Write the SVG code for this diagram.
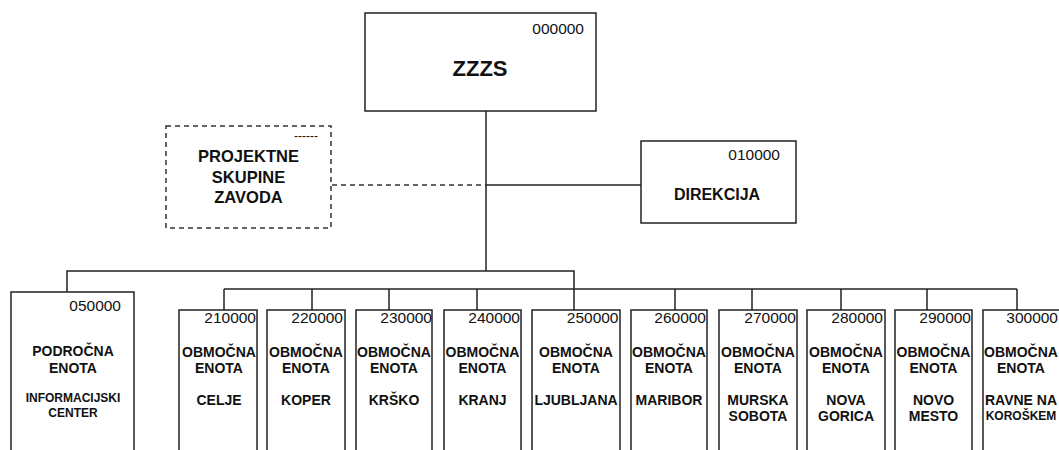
<svg xmlns="http://www.w3.org/2000/svg" width="1059" height="450" viewBox="0 0 1059 450">
<style>
.box{fill:#fff;stroke:#222;stroke-width:1.5}
.dbox{fill:#fff;stroke:#333;stroke-width:1.5;stroke-dasharray:5 4}
.ln{fill:none;stroke:#222;stroke-width:1.5}
.dln{fill:none;stroke:#333;stroke-width:1.3;stroke-dasharray:5 4}
text{font-family:"Liberation Sans",Arial,sans-serif;fill:#111}
.code{font-size:15.5px;text-anchor:end}
.t{font-size:14px;font-weight:bold;text-anchor:middle}
.s{font-size:12px;font-weight:bold;text-anchor:middle}
.big{font-size:22px;font-weight:bold;text-anchor:middle}
.m{font-size:16px;font-weight:bold;text-anchor:middle}
</style>
<rect width="1059" height="450" fill="#fff"/>
<g id="connectors">
<line class="ln" x1="486" y1="111" x2="486" y2="271"/>
<line class="dln" x1="332" y1="185" x2="486" y2="185"/>
<line class="ln" x1="486" y1="185" x2="641" y2="185"/>
<polyline class="ln" points="67,292 67,271 574,271 574,310"/>
<line class="ln" x1="224" y1="289" x2="1017" y2="289"/>
<line class="ln" x1="224" y1="289" x2="224" y2="310"/>
<line class="ln" x1="312" y1="289" x2="312" y2="310"/>
<line class="ln" x1="389" y1="289" x2="389" y2="310"/>
<line class="ln" x1="477" y1="289" x2="477" y2="310"/>
<line class="ln" x1="675" y1="289" x2="675" y2="310"/>
<line class="ln" x1="752" y1="289" x2="752" y2="310"/>
<line class="ln" x1="841" y1="289" x2="841" y2="310"/>
<line class="ln" x1="927" y1="289" x2="927" y2="310"/>
<line class="ln" x1="1017" y1="289" x2="1017" y2="310"/>
</g>
<g id="zzzs">
<rect class="box" x="365" y="13" width="231" height="98"/>
<text class="code" x="584" y="34">000000</text>
<text class="big" x="480" y="76">ZZZS</text>
</g>
<g id="projektne">
<rect class="dbox" x="166" y="126" width="165" height="102"/>
<text x="306" y="140" style="font-size:12px;text-anchor:middle">------</text>
<text x="248.5" y="161.5" style="font-size:16.5px;font-weight:bold;text-anchor:middle">PROJEKTNE</text>
<text x="248.5" y="182.5" style="font-size:16.5px;font-weight:bold;text-anchor:middle">SKUPINE</text>
<text x="248.5" y="203" style="font-size:16.5px;font-weight:bold;text-anchor:middle">ZAVODA</text>
</g>
<g id="direkcija">
<rect class="box" x="641" y="141" width="155" height="82"/>
<text class="code" x="780" y="160">010000</text>
<text class="m" x="717" y="200">DIREKCIJA</text>
</g>
<g id="n050000">
<rect class="box" x="11" y="292" width="123" height="170"/>
<text class="code" x="121" y="311">050000</text>
<text class="t" x="73" y="356">PODROČNA</text>
<text class="t" x="73" y="372.5">ENOTA</text>
<text class="s" x="73" y="401.5">INFORMACIJSKI</text>
<text class="s" x="73" y="416.5">CENTER</text>
</g>
<g id="n210000">
<rect class="box" x="179" y="310" width="78" height="150"/>
<text class="code" x="256" y="323">210000</text>
<text class="t" x="219" y="357">OBMOČNA</text>
<text class="t" x="219" y="373">ENOTA</text>
<text class="t" x="219" y="405">CELJE</text>
</g>
<g id="n220000">
<rect class="box" x="267" y="310" width="78" height="150"/>
<text class="code" x="343" y="323">220000</text>
<text class="t" x="306" y="357">OBMOČNA</text>
<text class="t" x="306" y="373">ENOTA</text>
<text class="t" x="306" y="405">KOPER</text>
</g>
<g id="n230000">
<rect class="box" x="356" y="310" width="76" height="150"/>
<text class="code" x="432" y="323">230000</text>
<text class="t" x="394" y="357">OBMOČNA</text>
<text class="t" x="394" y="373">ENOTA</text>
<text class="t" x="394" y="405">KRŠKO</text>
</g>
<g id="n240000">
<rect class="box" x="444" y="310" width="77" height="150"/>
<text class="code" x="520" y="323">240000</text>
<text class="t" x="482.5" y="357">OBMOČNA</text>
<text class="t" x="482.5" y="373">ENOTA</text>
<text class="t" x="482.5" y="405">KRANJ</text>
</g>
<g id="n250000">
<rect class="box" x="532" y="310" width="88" height="150"/>
<text class="code" x="618.5" y="323">250000</text>
<text class="t" x="576" y="357">OBMOČNA</text>
<text class="t" x="576" y="373">ENOTA</text>
<text class="t" x="576" y="405">LJUBLJANA</text>
</g>
<g id="n260000">
<rect class="box" x="631" y="310" width="76" height="150"/>
<text class="code" x="706" y="323">260000</text>
<text class="t" x="669" y="357">OBMOČNA</text>
<text class="t" x="669" y="373">ENOTA</text>
<text class="t" x="669" y="405">MARIBOR</text>
</g>
<g id="n270000">
<rect class="box" x="719" y="310" width="78" height="150"/>
<text class="code" x="796" y="323">270000</text>
<text class="t" x="758" y="357">OBMOČNA</text>
<text class="t" x="758" y="373">ENOTA</text>
<text class="t" x="758" y="405">MURSKA</text>
<text class="t" x="758" y="421">SOBOTA</text>
</g>
<g id="n280000">
<rect class="box" x="807" y="310" width="78" height="150"/>
<text class="code" x="883" y="323">280000</text>
<text class="t" x="846" y="357">OBMOČNA</text>
<text class="t" x="846" y="373">ENOTA</text>
<text class="t" x="846" y="405">NOVA</text>
<text class="t" x="846" y="421">GORICA</text>
</g>
<g id="n290000">
<rect class="box" x="895" y="310" width="77" height="150"/>
<text class="code" x="971" y="323">290000</text>
<text class="t" x="933.5" y="357">OBMOČNA</text>
<text class="t" x="933.5" y="373">ENOTA</text>
<text class="t" x="933.5" y="405">NOVO</text>
<text class="t" x="933.5" y="421">MESTO</text>
</g>
<g id="n300000">
<rect class="box" x="983" y="310" width="80" height="150"/>
<text class="code" x="1058" y="323">300000</text>
<text class="t" x="1021" y="357">OBMOČNA</text>
<text class="t" x="1021" y="373">ENOTA</text>
<text class="t" x="1021" y="405">RAVNE NA</text>
<text class="s" x="1021" y="420">KOROŠKEM</text>
</g>
</svg>
